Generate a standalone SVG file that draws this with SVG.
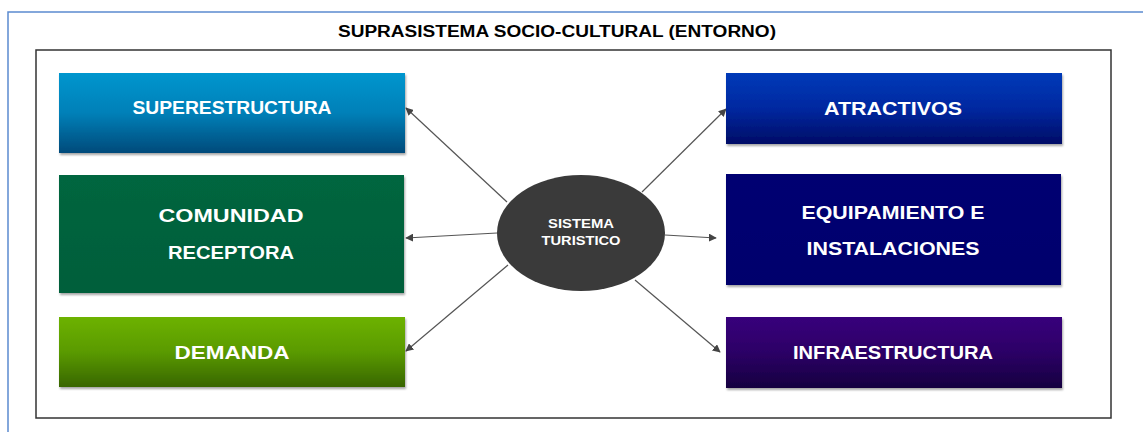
<svg xmlns="http://www.w3.org/2000/svg" width="1143" height="432" viewBox="0 0 1143 432">
<style>
.lbl{font-family:"Liberation Sans",Arial,sans-serif;font-weight:bold;fill:#fff;font-size:19px;text-anchor:middle}
.conn{stroke:#555;stroke-width:1.2;fill:none;marker-end:url(#ah)}
.box{filter:url(#sh)}
</style>
<defs>
<marker id="ah" viewBox="0 0 10 10" refX="9" refY="5" markerWidth="8" markerHeight="8" markerUnits="userSpaceOnUse" orient="auto"><path d="M0,0 L10,5 L0,10 z" fill="#444"/></marker>
<filter id="sh" x="-5%" y="-10%" width="110%" height="125%"><feDropShadow dx="1" dy="2" stdDeviation="1.2" flood-color="#000" flood-opacity="0.35"/></filter>
<linearGradient id="gSup" x1="0" y1="0" x2="0" y2="1"><stop offset="0" stop-color="#0096CE"/><stop offset="0.5" stop-color="#0080B8"/><stop offset="1" stop-color="#004A7A"/></linearGradient>
<linearGradient id="gCom" x1="0" y1="0" x2="0" y2="1"><stop offset="0" stop-color="#00663F"/><stop offset="1" stop-color="#005E3A"/></linearGradient>
<linearGradient id="gDem" x1="0" y1="0" x2="0" y2="1"><stop offset="0" stop-color="#6DB200"/><stop offset="0.5" stop-color="#5A9A00"/><stop offset="1" stop-color="#386600"/></linearGradient>
<linearGradient id="gAtr" x1="0" y1="0" x2="0" y2="1"><stop offset="0" stop-color="#003AB8"/><stop offset="0.5" stop-color="#0028A0"/><stop offset="1" stop-color="#000C66"/></linearGradient>
<linearGradient id="gEq" x1="0" y1="0" x2="0" y2="1"><stop offset="0" stop-color="#000072"/><stop offset="1" stop-color="#00006C"/></linearGradient>
<linearGradient id="gInf" x1="0" y1="0" x2="0" y2="1"><stop offset="0" stop-color="#38007C"/><stop offset="0.5" stop-color="#2C0066"/><stop offset="1" stop-color="#160040"/></linearGradient>
</defs>
<rect x="0" y="0" width="1143" height="432" fill="#fff"/>
<g id="frame">
<rect x="8" y="12" width="1150" height="440" fill="none" stroke="#5B8BD0" stroke-width="1.5"/>
<text x="557" y="37" font-family="'Liberation Sans',Arial,sans-serif" font-weight="bold" font-size="16" fill="#000" text-anchor="middle" textLength="438" lengthAdjust="spacingAndGlyphs">SUPRASISTEMA SOCIO-CULTURAL (ENTORNO)</text>
<rect x="36" y="50" width="1075" height="368" fill="none" stroke="#333" stroke-width="1.5"/>
</g>
<g id="connectors">
<line class="conn" x1="507" y1="202" x2="406" y2="108"/>
<line class="conn" x1="497" y1="233" x2="406" y2="238"/>
<line class="conn" x1="508" y1="265" x2="406" y2="351"/>
<line class="conn" x1="642" y1="192" x2="726" y2="109"/>
<line class="conn" x1="665" y1="235" x2="716" y2="238"/>
<line class="conn" x1="635" y1="280" x2="720" y2="352"/>
</g>
<g id="superestructura">
<rect class="box" x="59" y="73" width="346" height="80" fill="url(#gSup)"/>
<text class="lbl" x="232" y="114" textLength="199" lengthAdjust="spacingAndGlyphs">SUPERESTRUCTURA</text>
</g>
<g id="comunidad">
<rect class="box" x="59" y="175" width="345" height="118" fill="url(#gCom)"/>
<text class="lbl" x="231" y="222" textLength="145" lengthAdjust="spacingAndGlyphs">COMUNIDAD</text>
<text class="lbl" x="231" y="259" textLength="126" lengthAdjust="spacingAndGlyphs">RECEPTORA</text>
</g>
<g id="demanda">
<rect class="box" x="59" y="317" width="346" height="70" fill="url(#gDem)"/>
<text class="lbl" x="232" y="359" textLength="115" lengthAdjust="spacingAndGlyphs">DEMANDA</text>
</g>
<g id="atractivos">
<rect class="box" x="726" y="73" width="336" height="71" fill="url(#gAtr)"/>
<text class="lbl" x="893" y="115" textLength="138" lengthAdjust="spacingAndGlyphs">ATRACTIVOS</text>
</g>
<g id="equipamiento">
<rect class="box" x="726" y="174" width="335" height="111" fill="url(#gEq)"/>
<text class="lbl" x="893" y="219" textLength="183" lengthAdjust="spacingAndGlyphs">EQUIPAMIENTO E</text>
<text class="lbl" x="893" y="255" textLength="173" lengthAdjust="spacingAndGlyphs">INSTALACIONES</text>
</g>
<g id="infraestructura">
<rect class="box" x="726" y="317" width="336" height="71" fill="url(#gInf)"/>
<text class="lbl" x="893" y="359" textLength="200" lengthAdjust="spacingAndGlyphs">INFRAESTRUCTURA</text>
</g>
<g id="sistema">
<ellipse cx="581" cy="233" rx="84" ry="58" fill="#3A3A3A"/>
<text x="581" y="228" font-family="'Liberation Sans',Arial,sans-serif" font-weight="bold" font-size="13" fill="#fff" text-anchor="middle" textLength="66" lengthAdjust="spacingAndGlyphs">SISTEMA</text>
<text x="581" y="245" font-family="'Liberation Sans',Arial,sans-serif" font-weight="bold" font-size="13" fill="#fff" text-anchor="middle" textLength="79" lengthAdjust="spacingAndGlyphs">TURISTICO</text>
</g>
</svg>
